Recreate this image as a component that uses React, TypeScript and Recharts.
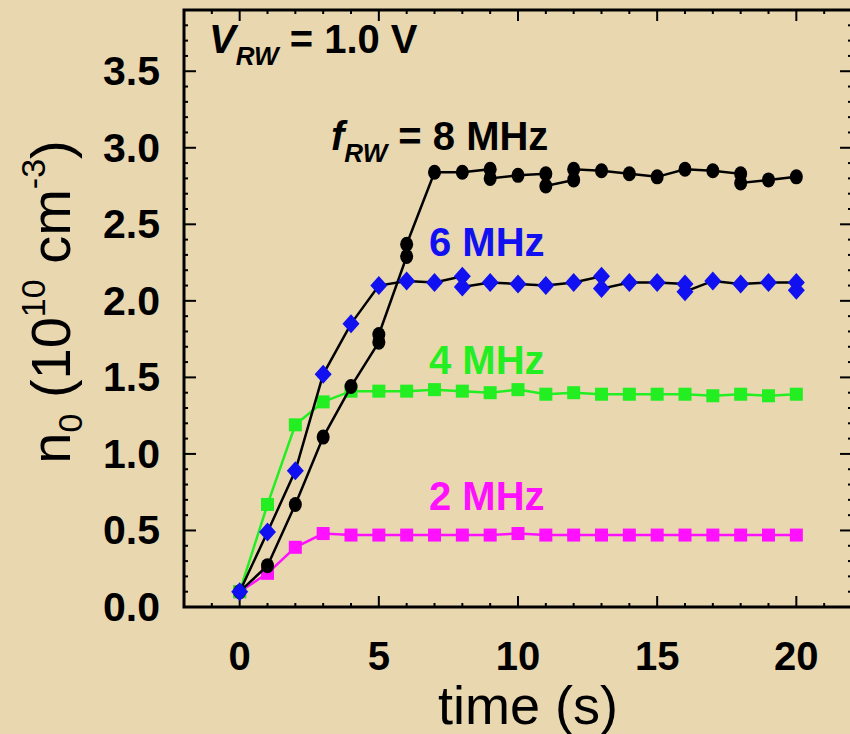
import React from 'react';
import { ScatterChart, Scatter, XAxis, YAxis, ReferenceLine, ReferenceArea, Customized } from 'recharts';

// axis ticks
const xMajor = [0, 5, 10, 15, 20];
const xTicks = [-1, 0, 1, 2, 3, 4, 5, 6, 7, 8, 9, 10, 11, 12, 13, 14, 15, 16, 17, 18, 19, 20, 21];
const yMajor = [0, 0.5, 1, 1.5, 2, 2.5, 3, 3.5];
const yTicks = [
  0, 0.1, 0.2, 0.3, 0.4, 0.5, 0.6, 0.7, 0.8, 0.9, 1, 1.1, 1.2, 1.3, 1.4, 1.5, 1.6, 1.7, 1.8, 1.9,
  2, 2.1, 2.2, 2.3, 2.4, 2.5, 2.6, 2.7, 2.8, 2.9, 3, 3.1, 3.2, 3.3, 3.4, 3.5, 3.6, 3.7, 3.8,
];
const xDomain = [-2, 22];
const yDomain = [0, 3.9];

// f_RW = 2 MHz
const t2 = [0, 1, 2, 3, 4, 5, 6, 7, 8, 9, 10, 11, 12, 13, 14, 15, 16, 17, 18, 19, 20];
const n2 = [0.1, 0.22, 0.39, 0.48, 0.47, 0.47, 0.47, 0.47, 0.47, 0.47, 0.48, 0.47, 0.47, 0.47, 0.47, 0.47, 0.47, 0.47, 0.47, 0.47, 0.47];

// f_RW = 4 MHz
const t4 = [0, 1, 2, 3, 4, 5, 6, 7, 8, 9, 10, 11, 12, 13, 14, 15, 16, 17, 18, 19, 20];
const n4 = [0.1, 0.67, 1.19, 1.34, 1.41, 1.41, 1.41, 1.42, 1.41, 1.4, 1.42, 1.39, 1.4, 1.39, 1.39, 1.39, 1.39, 1.38, 1.39, 1.38, 1.39];

// f_RW = 6 MHz
const t6 = [0, 1, 2, 3, 4, 5, 6, 7, 8, 8, 9, 10, 11, 12, 13, 13, 14, 15, 16, 16, 17, 18, 19, 20, 20];
const n6 = [0.1, 0.49, 0.89, 1.52, 1.85, 2.1, 2.13, 2.12, 2.16, 2.09, 2.12, 2.11, 2.1, 2.12, 2.16, 2.08, 2.12, 2.12, 2.11, 2.06, 2.13, 2.11, 2.12, 2.12, 2.07];

// f_RW = 8 MHz
const t8 = [0, 1, 2, 3, 4, 5, 5, 6, 6, 7, 8, 9, 9, 10, 11, 11, 12, 12, 13, 14, 15, 16, 17, 18, 18, 19, 20];
const n8 = [0.1, 0.27, 0.67, 1.11, 1.44, 1.73, 1.78, 2.29, 2.37, 2.84, 2.84, 2.86, 2.8, 2.82, 2.83, 2.75, 2.79, 2.86, 2.85, 2.83, 2.81, 2.86, 2.85, 2.83, 2.77, 2.79, 2.81];

const toRows = (ts: number[], ns: number[]) => ts.map((t, i) => ({ t, n: ns[i] }));

const FONT = '"Liberation Sans", Arial, Helvetica, sans-serif';
const BG = '#e9d7b0';

// px per axis unit at this chart size, used to turn tick lengths into axis units
const X_UNIT_PX = 27.83;
const Y_UNIT_PX = 153.1;

const isMajor = (v: number, list: number[]) => list.some((m) => Math.abs(m - v) < 1e-6);

const BottomTick = (props: any) => {
  const { x, y, payload } = props;
  if (!isMajor(payload.value, xMajor)) return <g />;
  return (
    <text x={x} y={y + 63} textAnchor="middle" fontSize={40} fontWeight="bold" fontFamily={FONT} fill="#000">
      {payload.value}
    </text>
  );
};

const LeftTick = (props: any) => {
  const { x, y, payload } = props;
  if (!isMajor(payload.value, yMajor)) return <g />;
  return (
    <text x={x - 24} y={y + 14} textAnchor="end" fontSize={41} fontWeight="bold" fontFamily={FONT} fill="#000">
      {Number(payload.value).toFixed(1)}
    </text>
  );
};

const circle = (color: string) => (p: any) => <ellipse cx={p.cx} cy={p.cy} rx={6.5} ry={7.5} fill={color} />;
const square = (color: string) => (p: any) => <rect x={p.cx - 6.5} y={p.cy - 6.5} width={13} height={13} fill={color} />;
const diamond = (color: string) => (p: any) => (
  <polygon points={`${p.cx},${p.cy - 9.5} ${p.cx + 8.5},${p.cy} ${p.cx},${p.cy + 9.5} ${p.cx - 8.5},${p.cy}`} fill={color} />
);

const Texts = () => (
  <g fontFamily={FONT}>
    <text x={209} y={53} fontSize={40} fontWeight="bold" fill="#000">
      <tspan fontStyle="italic">V</tspan>
      <tspan fontStyle="italic" fontSize={26} dy={12}>RW</tspan>
      <tspan dy={-12}> = 1.0 V</tspan>
    </text>
    <text x={331} y={150} fontSize={40} fontWeight="bold" fill="#000">
      <tspan fontStyle="italic">f</tspan>
      <tspan fontStyle="italic" fontSize={26} dy={12}>RW</tspan>
      <tspan dy={-12}> = 8 MHz</tspan>
    </text>
    <text x={429} y={256} fontSize={40} fontWeight="bold" fill="#1010f0">6 MHz</text>
    <text x={429} y={374} fontSize={40} fontWeight="bold" fill="#22ee22">4 MHz</text>
    <text x={429} y={510} fontSize={40} fontWeight="bold" fill="#ff10ff">2 MHz</text>
    <text x={528} y={724} fontSize={54} textAnchor="middle" fill="#000">time (s)</text>
    <text transform="rotate(-90)" x={-302} y={70} fontSize={56} textAnchor="middle" fill="#000">
      <tspan>n</tspan>
      <tspan fontSize={34} dy={12}>0</tspan>
      <tspan dy={-12}> (10</tspan>
      <tspan fontSize={34} dy={-25}>10</tspan>
      <tspan dy={25}> cm</tspan>
      <tspan fontSize={34} dy={-25}>-3</tspan>
      <tspan dy={25}>)</tspan>
    </text>
  </g>
);

const tickStyle = { stroke: '#000', strokeWidth: 2, ifOverflow: 'visible' as const };

export default function App() {
  const xLen = (v: number) => (isMajor(v, xMajor) ? 11 : 4) / Y_UNIT_PX;
  const yLen = (v: number) => (isMajor(v, yMajor) ? 12 : 4) / X_UNIT_PX;
  return (
    <div style={{ width: 866, height: 734, position: 'relative', overflow: 'hidden' }}>
      <style>{'html,body{margin:0;padding:0;overflow:hidden;background:' + BG + ';}'}</style>
      <div style={{ position: 'absolute', left: 0, top: 0 }}>
        <ScatterChart width={866} height={734} margin={{ top: 10, right: 14, bottom: 0, left: 84 }}>
          <XAxis
            dataKey="t"
            type="number"
            domain={xDomain}
            ticks={xTicks}
            interval={0}
            allowDataOverflow
            height={127}
            tickSize={0}
            tickMargin={0}
            tickLine={false}
            tick={<BottomTick />}
            axisLine={false}
          />
          <YAxis
            dataKey="n"
            type="number"
            domain={yDomain}
            ticks={yTicks}
            interval={0}
            allowDataOverflow
            width={100}
            tickSize={0}
            tickMargin={0}
            tickLine={false}
            tick={<LeftTick />}
            axisLine={false}
          />
          <ReferenceArea
            x1={xDomain[0]}
            x2={xDomain[1]}
            y1={yDomain[0]}
            y2={yDomain[1]}
            fill="none"
            fillOpacity={0}
            stroke="#000"
            strokeWidth={3}
          />
          {xTicks.map((v) => (
            <ReferenceLine
              key={'b' + v}
              segment={[{ x: v, y: yDomain[0] }, { x: v, y: yDomain[0] + xLen(v) }]}
              {...tickStyle}
            />
          ))}
          {xTicks.map((v) => (
            <ReferenceLine
              key={'t' + v}
              segment={[{ x: v, y: yDomain[1] }, { x: v, y: yDomain[1] - xLen(v) }]}
              {...tickStyle}
            />
          ))}
          {yTicks.map((v) => (
            <ReferenceLine
              key={'l' + v}
              segment={[{ x: xDomain[0], y: v }, { x: xDomain[0] + yLen(v), y: v }]}
              {...tickStyle}
            />
          ))}
          {yTicks.map((v) => (
            <ReferenceLine
              key={'r' + v}
              segment={[{ x: xDomain[1], y: v }, { x: xDomain[1] - yLen(v), y: v }]}
              {...tickStyle}
            />
          ))}
          <Scatter
            data={toRows(t2, n2)}
            line={{ stroke: '#ff10ff', strokeWidth: 2.5 }}
            lineType="joint"
            shape={square('#ff10ff')}
            isAnimationActive={false}
          />
          <Scatter
            data={toRows(t4, n4)}
            line={{ stroke: '#22ee22', strokeWidth: 2.5 }}
            lineType="joint"
            shape={square('#22ee22')}
            isAnimationActive={false}
          />
          <Scatter
            data={toRows(t8, n8)}
            line={{ stroke: '#000', strokeWidth: 2.5 }}
            lineType="joint"
            shape={circle('#000')}
            isAnimationActive={false}
          />
          <Scatter
            data={toRows(t6, n6)}
            line={{ stroke: '#000', strokeWidth: 2.5 }}
            lineType="joint"
            shape={diamond('#1010f0')}
            isAnimationActive={false}
          />
          <Customized component={<Texts />} />
        </ScatterChart>
      </div>
    </div>
  );
}
